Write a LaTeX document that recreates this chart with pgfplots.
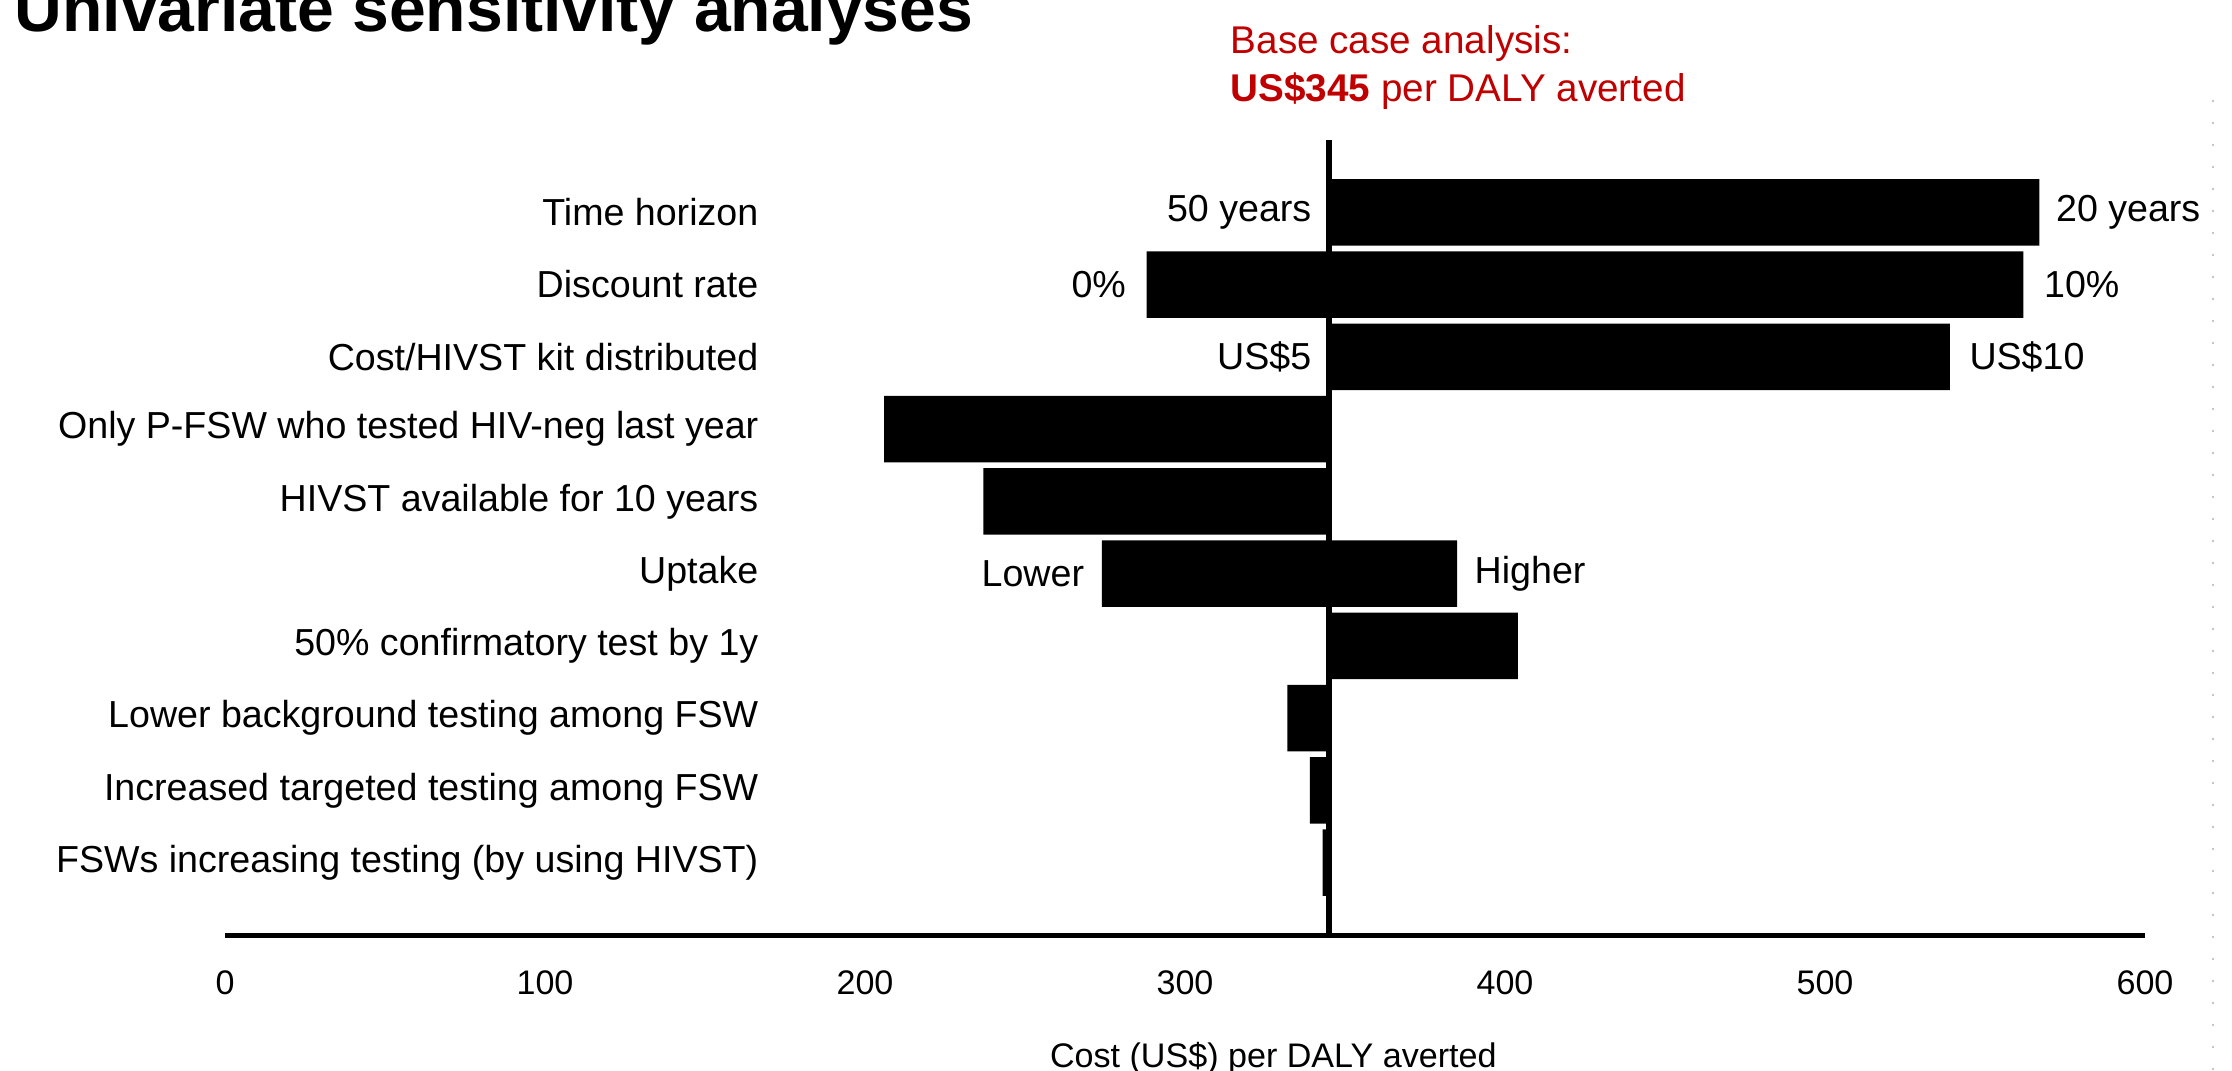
\documentclass[border=0pt]{standalone}
\usepackage{pgfplots}
\pgfplotsset{compat=1.18}
\usepackage{pgfplotstable}
\usepackage{fontspec}
\setmainfont{Liberation Sans}
\definecolor{basered}{RGB}{192,0,0}

% pos = row (10 = top), low / high = cost per DALY averted (US$)
\pgfplotstableread{
pos low high
10 345 567
9 288 562
8 345 539
7 206 345
6 237 345
5 274 385
4 345 404
3 332 345
2 339 345
1 343 345
}\sens

\tikzset{barlab/.style={font=\fontsize{10.7}{12.8}\selectfont, inner sep=0pt}}

\begin{document}
\begin{tikzpicture}[x=1cm,y=1cm]
\path[use as bounding box] (-2.25,-1.35) rectangle (20.07,9.35);
\begin{axis}[
  at={(0,0)}, anchor=south west,
  scale only axis,
  width=19.2cm, height=7.95cm,
  xmin=0, xmax=600, ymin=0, ymax=11,
  clip=false,
  xbar stacked,
  bar width=0.92,
  axis x line*=bottom,
  axis y line*=left,
  x axis line style={line width=0.05cm, -},
  y axis line style={draw=none},
  xtick={0,100,...,600},
  major tick length=0pt,
  /pgf/number format/assume math mode=true,
  xticklabel style={font=\fontsize{9.7}{11}\selectfont, anchor=north, inner sep=0pt, yshift=-0.35cm},
  ytick={1,...,10},
  yticklabels={FSWs increasing testing (by using HIVST),
               Increased targeted testing among FSW,
               Lower background testing among FSW,
               50\% confirmatory test by 1y,
               Uptake,
               HIVST available for 10 years,
               Only P-FSW who tested HIV-neg last year,
               Cost/HIVST kit distributed,
               Discount rate,
               Time horizon},
  yticklabel style={font=\fontsize{10.7}{12.8}\selectfont, anchor=east, inner sep=0pt, xshift=5.34cm},
  xlabel={Cost (US\$) per DALY averted},
  xlabel style={at={(rel axis cs:0.546,0)}, anchor=north, inner sep=0pt, yshift=-1.07cm, font=\fontsize{9.7}{11}\selectfont},
]
\addplot[draw=none, fill=none] table[x=low, y=pos] {\sens};
\addplot[fill=black, draw=none] table[x expr=\thisrow{high}-\thisrow{low}, y=pos] {\sens};

\node[barlab, anchor=east, xshift=-0.17cm] at (axis cs:345,10) {50 years};
\node[barlab, anchor=west, xshift=0.16cm] at (axis cs:567,10) {20 years};
\node[barlab, anchor=east, xshift=-0.2cm] at (axis cs:288,9) {0\%};
\node[barlab, anchor=west, xshift=0.2cm] at (axis cs:562,9) {10\%};
\node[barlab, anchor=east, xshift=-0.17cm] at (axis cs:345,8) {US\$5};
\node[barlab, anchor=west, xshift=0.19cm] at (axis cs:539,8) {US\$10};
\node[barlab, anchor=east, xshift=-0.17cm] at (axis cs:274,5) {Lower};
\node[barlab, anchor=west, xshift=0.17cm] at (axis cs:385,5) {Higher};
\draw[black, line width=0.06cm] (axis cs:345,0) -- (axis cs:345,11);
\end{axis}

\node[anchor=base west, inner sep=0pt, font=\fontsize{18.8}{22}\selectfont\bfseries] at (-2.11,9.03) {Univariate sensitivity analyses};
\node[anchor=base west, inner sep=0pt, text=basered, font=\fontsize{11}{13}\selectfont] at (10.05,8.81) {Base case analysis:};
\node[anchor=base west, inner sep=0pt, text=basered, font=\fontsize{11}{13}\selectfont] at (10.05,8.33) {\textbf{US\$345} per DALY averted};
\draw[gray!45, line width=0.02cm, dash pattern=on 0.02cm off 0.2cm] (19.88,8.35) -- (19.88,-1.35);
\end{tikzpicture}
\end{document}
